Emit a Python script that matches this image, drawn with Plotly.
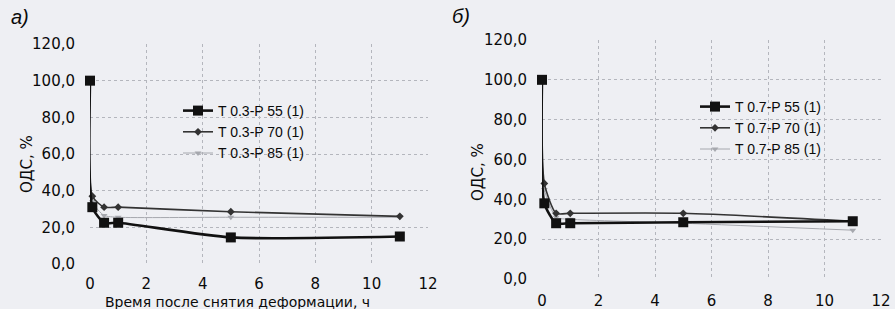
import plotly.graph_objects as go

# ---- data ----
time_h = [0, 0.083, 0.5, 1, 5, 11]

left_names = ["T 0.3-P 55 (1)", "T 0.3-P 70 (1)", "T 0.3-P 85 (1)"]
left_p55 = [100, 31, 22.5, 22.5, 14.5, 15]
left_p70 = [100, 37, 31, 31, 28.5, 26]
left_p85 = [100, 34, 26.5, 25.5, 25.5, 25.5]

right_names = ["T 0.7-P 55 (1)", "T 0.7-P 70 (1)", "T 0.7-P 85 (1)"]
right_p55 = [100, 38, 28, 28, 28.5, 29]
right_p70 = [100, 48, 33, 33, 33, 29]
right_p85 = [100, 45, 31, 30, 28, 24.5]

y_ticks = [0, 20, 40, 60, 80, 100, 120]
x_ticks = [0, 2, 4, 6, 8, 10, 12]

W, H = 895, 309
BG = "#eeeff3"
def px(x):
    return x / W
def py(y):
    return 1 - y / H

# index 0 -> P55, 1 -> P70, 2 -> P85
styles = [
    dict(color="#111111", width=2.6, symbol="square", size=10),
    dict(color="#333333", width=1.6, symbol="diamond", size=6),
    dict(color="#a6a8ae", width=1.0, symbol="triangle-down", size=6),
]

fig = go.Figure()

def add_series(xaxis, yaxis, legend, names, series):
    # draw lighter series first so dark lines are on top
    for idx in (2, 1, 0):
        st = styles[idx]
        fig.add_trace(go.Scatter(
            x=time_h, y=series[idx], name=names[idx], mode="lines+markers",
            xaxis=xaxis, yaxis=yaxis, legend=legend,
            line=dict(color=st["color"], width=st["width"], shape="spline", smoothing=0.6),
            marker=dict(symbol=st["symbol"], size=st["size"], color=st["color"]),
            cliponaxis=False,
        ))

add_series("x", "y", "legend", left_names, [left_p55, left_p70, left_p85])
add_series("x2", "y2", "legend2", right_names, [right_p55, right_p70, right_p85])

tick_font = dict(family="DejaVu Sans, Verdana, sans-serif", color="#0a0a0a", size=15)
leg_font = dict(family="Liberation Sans, Arial, sans-serif", color="#0a0a0a", size=14)
grid = dict(showgrid=True, gridcolor="#b4b6bd", griddash="dot", gridwidth=1,
            zeroline=False, showline=False, ticks="", tickfont=tick_font, automargin=False)

fig.update_layout(
    width=W, height=H,
    margin=dict(l=0, r=0, t=0, b=0, pad=0),
    paper_bgcolor=BG, plot_bgcolor=BG,
    separators=", ",
    xaxis=dict(domain=[px(90), px(428)], range=[0, 12], tickvals=x_ticks, anchor="y",
               ticklabelstandoff=9, **grid),
    yaxis=dict(domain=[py(264), py(44)], range=[0, 120], tickvals=y_ticks, tickformat=".1f",
               anchor="x", ticklabelstandoff=14, **grid),
    xaxis2=dict(domain=[px(542), px(881)], range=[0, 12], tickvals=x_ticks, anchor="y2",
                ticklabelstandoff=11, **grid),
    yaxis2=dict(domain=[py(279), py(40)], range=[0, 120], tickvals=y_ticks, tickformat=".1f",
                anchor="x2", ticklabelstandoff=14, **grid),
    legend=dict(x=px(178), y=py(95), xanchor="left", yanchor="top", traceorder="reversed",
                bgcolor="rgba(0,0,0,0)", font=leg_font, tracegroupgap=0),
    legend2=dict(x=px(695), y=py(91), xanchor="left", yanchor="top", traceorder="reversed",
                 bgcolor="rgba(0,0,0,0)", font=leg_font, tracegroupgap=0),
    showlegend=True,
)

def ann(x, y, text, size, angle=0, family="DejaVu Sans, Verdana, sans-serif"):
    fig.add_annotation(x=px(x), y=py(y), xref="paper", yref="paper", text=text,
                       xanchor="center", yanchor="middle", textangle=angle,
                       showarrow=False, font=dict(size=size, family=family, color="#0a0a0a"))

ann(20, 17, "<i>а)</i>", 20, family="Liberation Sans, Arial, sans-serif")
ann(461, 16, "<i>б)</i>", 20, family="Liberation Sans, Arial, sans-serif")
ann(27, 164, "ОДС, %", 15, -90)
ann(478, 172, "ОДС, %", 15, -90)
ann(237, 302, "Время после снятия деформации, ч", 14)

fig.write_html(
    "out.html",
    config={"displayModeBar": False},
    post_script=(
        "document.body.style.margin='0';"
        "document.body.style.padding='0';"
        "document.body.style.background='" + BG + "';"
        "document.body.style.overflow='hidden';"
    ),
)
